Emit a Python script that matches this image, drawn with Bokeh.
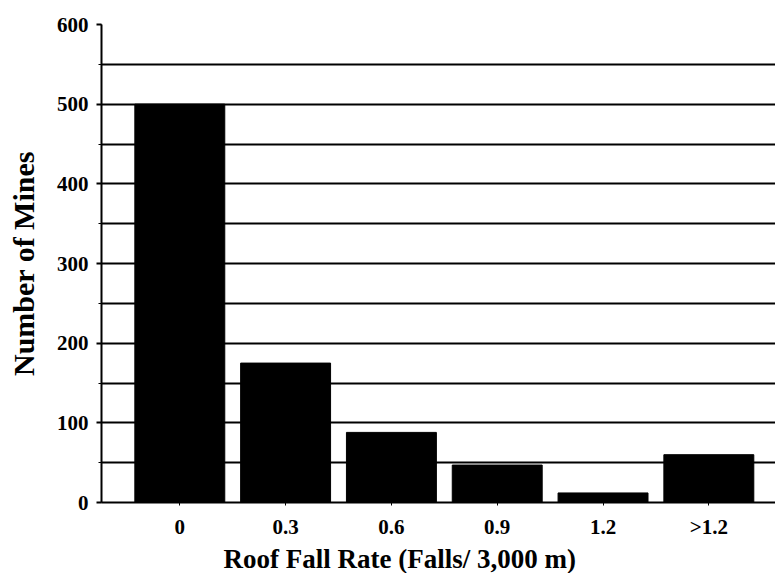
from bokeh.plotting import figure
from bokeh.models import Range1d, FixedTicker, Title, ColumnDataSource
from bokeh.embed import file_html
from bokeh.resources import INLINE

categories = ["0", "0.3", "0.6", "0.9", "1.2", ">1.2"]
mines = [500, 175, 88, 47, 12, 60]
y_ticks = [0, 100, 200, 300, 400, 500, 600]
grid_ticks = [0, 50, 100, 150, 200, 250, 300, 350, 400, 450, 500, 550, 600]

xs = list(range(len(categories)))
src = ColumnDataSource(dict(x=xs, top=mines, cat=categories))

FONT = "Liberation Serif"

p = figure(width=775, height=573, output_backend="svg", toolbar_location=None,
           x_range=Range1d(-0.74, 5.63), y_range=Range1d(0, 600),
           min_border_left=101, min_border_right=0, min_border_top=24, min_border_bottom=71)
p.outline_line_color = None
p.background_fill_color = "white"

p.vbar(x="x", top="top", width=0.85, bottom=0, source=src,
       fill_color="black", line_color="black")

# grid
p.xgrid.grid_line_color = None
p.ygrid.ticker = FixedTicker(ticks=grid_ticks)
p.ygrid.grid_line_color = "black"
p.ygrid.grid_line_width = 2
p.ygrid.level = "underlay"

# y axis
p.yaxis.ticker = FixedTicker(ticks=y_ticks, minor_ticks=grid_ticks)
p.yaxis.axis_line_width = 2
p.yaxis.axis_line_color = "black"
p.yaxis.major_tick_line_width = 2
p.yaxis.major_tick_out = 5
p.yaxis.major_tick_in = 0
p.yaxis.minor_tick_out = 3
p.yaxis.minor_tick_in = 0
p.yaxis.major_label_text_font = FONT
p.yaxis.major_label_text_font_style = "bold"
p.yaxis.major_label_text_font_size = "21px"
p.yaxis.major_label_text_color = "black"
p.yaxis.major_label_standoff = 8
p.yaxis.axis_label = "Number of Mines"
p.yaxis.axis_label_text_font = FONT
p.yaxis.axis_label_text_font_style = "bold"
p.yaxis.axis_label_text_font_size = "30px"
p.yaxis.axis_label_text_color = "black"
p.yaxis.axis_label_standoff = 14

# x axis
p.xaxis.ticker = FixedTicker(ticks=xs)
p.xaxis.major_label_overrides = {i: c for i, c in zip(xs, categories)}
p.xaxis.axis_line_width = 2
p.xaxis.axis_line_color = "black"
p.xaxis.major_tick_out = 3
p.xaxis.major_tick_in = 0
p.xaxis.minor_tick_line_color = None
p.xaxis.major_label_text_font = FONT
p.xaxis.major_label_text_font_style = "bold"
p.xaxis.major_label_text_font_size = "21px"
p.xaxis.major_label_text_color = "black"
p.xaxis.major_label_standoff = 9

xtitle = Title(text="Roof Fall Rate (Falls/ 3,000 m)", align="left", offset=122,
               text_font=FONT, text_font_style="bold", text_font_size="27px",
               text_color="black", standoff=0)
p.add_layout(xtitle, "below")

open("out.html", "w").write(file_html(p, INLINE))
